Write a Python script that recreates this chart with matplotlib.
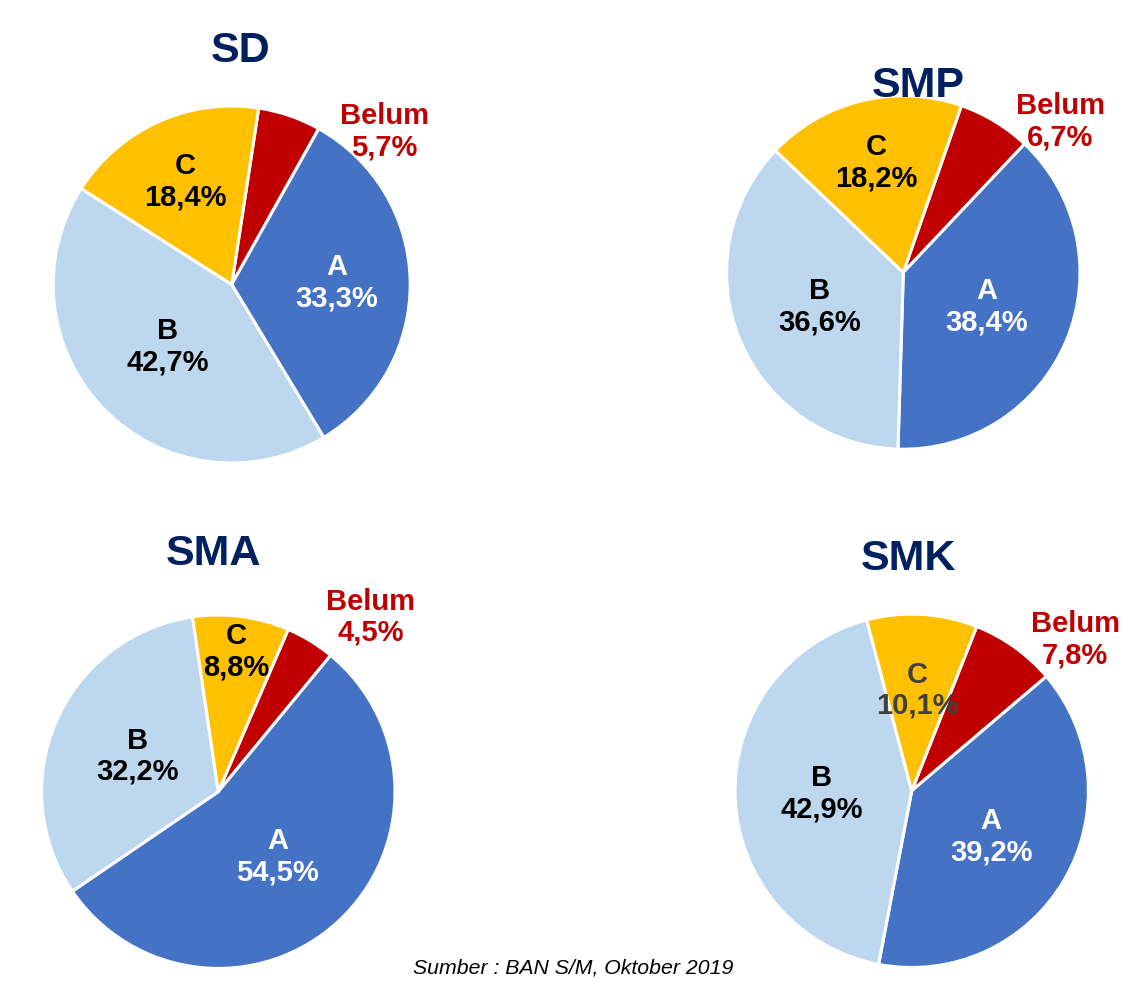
import numpy as np
import matplotlib
matplotlib.use("Agg")
import matplotlib.pyplot as plt

plt.rcParams['font.family'] = ['Liberation Sans', 'DejaVu Sans']

# data (clockwise from the top: Belum, A, B, C)
categories = ["Belum", "A", "B", "C"]
titles = ["SD", "SMP", "SMA", "SMK"]
sd = [5.7, 33.3, 42.7, 18.4]
smp = [6.7, 38.4, 36.6, 18.2]
sma = [4.5, 54.5, 32.2, 8.8]
smk = [7.8, 39.2, 42.9, 10.1]
values = [sd, smp, sma, smk]

colors = ["#C00000", "#4472C4", "#BDD7EE", "#FFC000"]
text_colors = ["#C00000", "white", "black", "black"]

# layout in pixel space (y up)
W, H = 1144, 986
centers = [(231.7, 701.5), (903.3, 713.5), (218.3, 194.3), (911.7, 195.2)]
radii = [178.5, 176.7, 176.7, 176.7]
starts = [81.3, 70.8, 66.7, 68.4]
title_pos = [(241, 924), (918, 889), (213, 421), (908, 416)]
# radial distance of inner labels (A, B, C) in radius units
inner_dist = [[0.59, 0.50, 0.63], [0.51, 0.51, 0.64], [0.50, 0.50, 0.80], [0.52, 0.51, 0.57]]
# Belum label placed outside: (angle deg, distance)
belum_pos = [(45.0, 1.21), (43.8, 1.23), (48.9, 1.31), (42.7, 1.26)]

fig = plt.figure(figsize=(W / 100, H / 100), dpi=100)
ax = fig.add_axes([0, 0, 1, 1])

fs = 21
for i, vals in enumerate(values):
    cx, cy = centers[i]
    r = radii[i]
    wedges, _ = ax.pie(vals, colors=colors, startangle=starts[i], counterclock=False,
                       center=(cx, cy), radius=r, frame=True,
                       wedgeprops=dict(edgecolor='white', linewidth=2.2))
    for j, w in enumerate(wedges):
        lbl = "%s\n%s%%" % (categories[j], ("%.1f" % vals[j]).replace('.', ','))
        col = text_colors[j]
        if i == 3 and j == 3:
            col = "#404040"
        if j == 0:
            ang, d = belum_pos[i]
        else:
            ang = (w.theta1 + w.theta2) / 2
            d = inner_dist[i][j - 1]
        x = cx + d * r * np.cos(np.radians(ang))
        y = cy + d * r * np.sin(np.radians(ang))
        ax.text(x, y, lbl, ha='center', va='center', fontsize=fs, fontweight='bold',
                color=col, linespacing=1.15)
    tx, ty = title_pos[i]
    ax.text(tx, ty, titles[i], ha='center', va='baseline', fontsize=31,
            fontweight='bold', color='#002060')

ax.set_xlim(0, W)
ax.set_ylim(0, H)
ax.set_aspect('equal')
ax.axis('off')

ax.text(573, 13, "Sumber : BAN S/M, Oktober 2019", ha='center', va='baseline',
        fontsize=15.3, style='italic', color='black')

fig.savefig("out.png", dpi=100)
